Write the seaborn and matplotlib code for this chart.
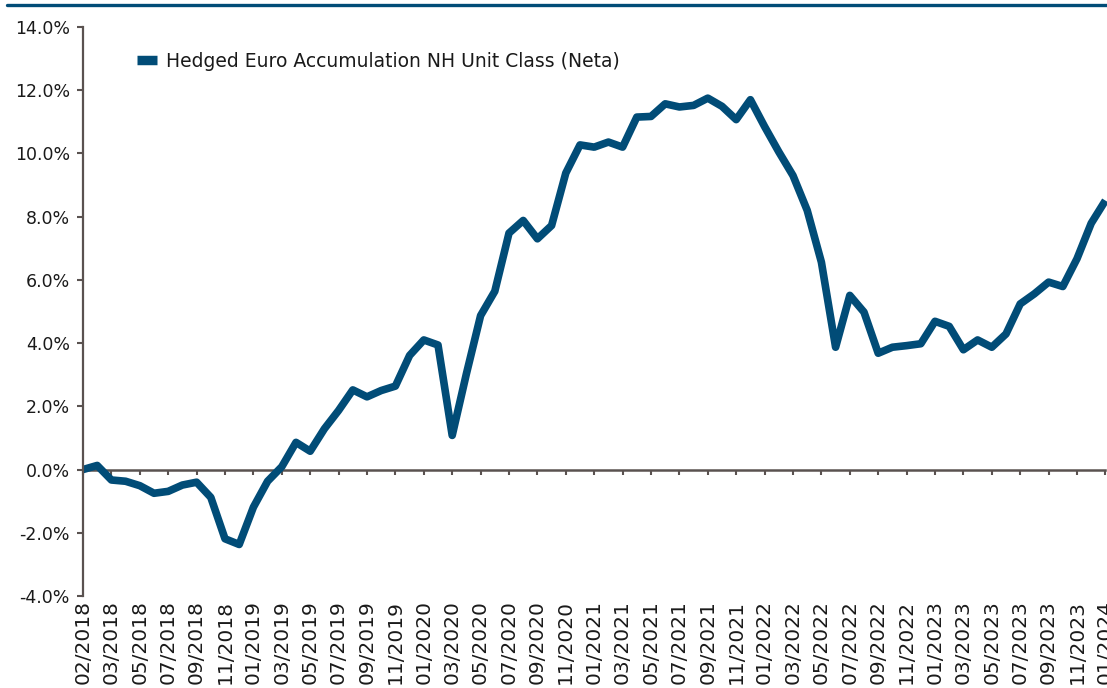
import matplotlib
matplotlib.use("Agg")
import matplotlib.pyplot as plt
from matplotlib.lines import Line2D
from matplotlib.ticker import FuncFormatter
import seaborn as sns

# valeurs (en %)
perf = [0.00, 0.13, -0.33, -0.37, -0.51, -0.75, -0.69, -0.49, -0.40, -0.88,
        -2.19, -2.37, -1.19, -0.37, 0.09, 0.86, 0.58, 1.29, 1.87, 2.52,
        2.30, 2.50, 2.64, 3.61, 4.10, 3.94, 1.08, 3.03, 4.87, 5.64,
        7.48, 7.88, 7.30, 7.72, 9.38, 10.27, 10.20, 10.36, 10.20, 11.15,
        11.17, 11.57, 11.47, 11.52, 11.75, 11.49, 11.07, 11.70, 10.85, 10.05,
        9.30, 8.20, 6.56, 3.87, 5.51, 4.98, 3.68, 3.87, 3.92, 3.98,
        4.69, 4.53, 3.79, 4.10, 3.87, 4.29, 5.24, 5.56, 5.93, 5.79,
        6.67, 7.79, 8.51]
x_pos = list(range(len(perf)))

tick_labels = ["02/2018", "03/2018", "05/2018", "07/2018", "09/2018", "11/2018",
               "01/2019", "03/2019", "05/2019", "07/2019", "09/2019", "11/2019",
               "01/2020", "03/2020", "05/2020", "07/2020", "09/2020", "11/2020",
               "01/2021", "03/2021", "05/2021", "07/2021", "09/2021", "11/2021",
               "01/2022", "03/2022", "05/2022", "07/2022", "09/2022", "11/2022",
               "01/2023", "03/2023", "05/2023", "07/2023", "09/2023", "11/2023",
               "01/2024"]
tick_pos = x_pos[::2]

serie = "Hedged Euro Accumulation NH Unit Class (Neta)"
bleu = "#014C77"
gris = "#5A5250"
texte = "#1A1A1A"

sns.set_style("white")
plt.rcParams["font.family"] = ["DejaVu Sans"]

fig = plt.figure(figsize=(11.07, 6.88), dpi=100)
ax = fig.add_axes([83 / 1107, 1 - 596 / 688, (1105.4 - 83) / 1107, (596 - 27) / 688])

sns.lineplot(x=x_pos, y=perf, ax=ax, color=bleu, linewidth=5.5, clip_on=False,
             solid_joinstyle="round", solid_capstyle="butt")

ax.set_xlim(0, 72)
ax.set_ylim(-4, 14)
ax.set_yticks(range(-4, 15, 2))
ax.yaxis.set_major_formatter(FuncFormatter(lambda v, p: f"{v:.1f}%"))
ax.set_xlabel("")
ax.set_ylabel("")

# axes
for s in ["top", "right"]:
    ax.spines[s].set_visible(False)
ax.spines["left"].set_color(gris)
ax.spines["left"].set_linewidth(1.6)
ax.spines["bottom"].set_position(("data", 0))
ax.spines["bottom"].set_color(gris)
ax.spines["bottom"].set_linewidth(1.8)
ax.spines["bottom"].set_zorder(1)

ax.tick_params(axis="y", left=True, direction="out", length=4.5, width=1.5,
               color=gris, labelsize=12.5, labelcolor=texte, pad=5)
ax.set_xticks(tick_pos)
ax.tick_params(axis="x", bottom=True, direction="out", length=3.5, width=1.5,
               color=gris, labelbottom=False)

sec = ax.secondary_xaxis("bottom")
sec.set_xticks(tick_pos, tick_labels)
sec.spines["bottom"].set_visible(False)
sec.tick_params(axis="x", length=0, labelsize=14.5, labelcolor=texte,
                labelrotation=90, pad=3)

handle = Line2D([0], [0], color=bleu, linewidth=6.8, solid_capstyle="butt")
ax.legend([handle], [serie], loc="center left", bbox_to_anchor=(0.036, 0.94),
          frameon=False, fontsize=13.5, handlelength=1.1, handletextpad=0.45,
          labelcolor=texte)

# filet bleu en haut
fig.add_artist(Line2D([7 / 1107, 1], [1 - 4.5 / 688, 1 - 4.5 / 688],
                      transform=fig.transFigure, color=bleu, linewidth=2.4))

fig.savefig("out.png", dpi=100)
